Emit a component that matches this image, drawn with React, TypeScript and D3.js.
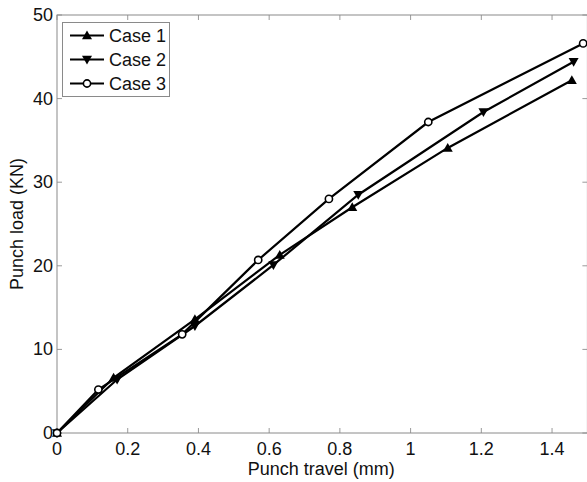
import React from "react";
import * as d3 from "d3";

const case1X = [0, 0.16, 0.39, 0.63, 0.835, 1.105, 1.456];
const case1Y = [0, 6.6, 13.6, 21.3, 27.0, 34.1, 42.2];
const case2X = [0, 0.17, 0.39, 0.612, 0.852, 1.206, 1.461];
const case2Y = [0, 6.4, 12.8, 20.1, 28.5, 38.4, 44.4];
const case3X = [0, 0.117, 0.354, 0.569, 0.769, 1.05, 1.488];
const case3Y = [0, 5.2, 11.8, 20.7, 28.0, 37.2, 46.6];
const xTicks = [0, 0.2, 0.4, 0.6, 0.8, 1, 1.2, 1.4];
const yTicks = [0, 10, 20, 30, 40, 50];
const seriesNames = ["Case 1", "Case 2", "Case 3"];
const markerKinds = ["up", "down", "circle"];

const W = 587, H = 482;
const left = 57, right = 587.4, top = 15, bottom = 433;
const FONT = "'Liberation Sans', Arial, sans-serif";

function Marker({ kind, x, y }: { kind: string; x: number; y: number }) {
  if (kind === "circle") return <circle cx={x} cy={y} r={3.6} fill="white" stroke="black" strokeWidth={1.6} />;
  const s = 5;
  if (kind === "up")
    return <path d={`M${x},${y - s} L${x + s},${y + s * 0.75} L${x - s},${y + s * 0.75} Z`} fill="black" />;
  return <path d={`M${x},${y + s} L${x + s},${y - s * 0.75} L${x - s},${y - s * 0.75} Z`} fill="black" />;
}

export default function App() {
  const x = d3.scaleLinear().domain([0, 1.5]).range([left, right]);
  const y = d3.scaleLinear().domain([0, 50]).range([bottom, top]);
  const series = [
    { xs: case1X, ys: case1Y },
    { xs: case2X, ys: case2Y },
    { xs: case3X, ys: case3Y },
  ];
  const line = d3.line<[number, number]>().x((d) => x(d[0])).y((d) => y(d[1]));
  const axisCol = "#8a8a8a";
  const tickCol = "#9a9a9a";
  const legX = 62.5, legY = 22.5, legW = 107, legH = 74;

  return (
    <svg width={W} height={H} style={{ position: "absolute", left: 0, top: 0, background: "white" }}>
      <rect x={0} y={0} width={W} height={H} fill="white" />
      {/* ticks */}
      {xTicks.map((t) => (
        <g key={"xt" + t}>
          <line x1={x(t)} x2={x(t)} y1={bottom} y2={bottom - 5} stroke={tickCol} />
          <line x1={x(t)} x2={x(t)} y1={top} y2={top + 5} stroke={tickCol} />
          <text x={x(t)} y={455} textAnchor="middle" fontFamily={FONT} fontSize={18} fill="#111">
            {String(t)}
          </text>
        </g>
      ))}
      {yTicks.map((t) => (
        <g key={"yt" + t}>
          <line x1={left} x2={left + 5} y1={y(t)} y2={y(t)} stroke={tickCol} />
          <line x1={right} x2={right - 5} y1={y(t)} y2={y(t)} stroke={tickCol} />
          <text x={53} y={y(t) + 6} textAnchor="end" fontFamily={FONT} fontSize={18} fill="#111">
            {String(t)}
          </text>
        </g>
      ))}
      <rect x={left} y={top} width={right - left} height={bottom - top} fill="none" stroke={axisCol} strokeWidth={1} />
      <text x={(left + right) / 2 - 1} y={475} textAnchor="middle" fontFamily={FONT} fontSize={18} fill="#111">
        Punch travel (mm)
      </text>
      <text
        transform={`translate(23,${(top + bottom) / 2}) rotate(-90)`}
        textAnchor="middle"
        fontFamily={FONT}
        fontSize={18}
        fill="#111"
      >
        Punch load (KN)
      </text>
      {/* series */}
      {series.map((s, i) => {
        const pts = s.xs.map((v, j) => [v, s.ys[j]] as [number, number]);
        return (
          <g key={"s" + i}>
            <path d={line(pts) || ""} fill="none" stroke="black" strokeWidth={2.2} />
            {pts.map((p, j) => (
              <Marker key={j} kind={markerKinds[i]} x={x(p[0])} y={y(p[1])} />
            ))}
          </g>
        );
      })}
      {/* legend */}
      <rect x={legX} y={legY} width={legW} height={legH} fill="white" stroke={axisCol} strokeWidth={1} />
      {seriesNames.map((n, i) => {
        const ly = 35.5 + i * 24;
        return (
          <g key={"l" + i}>
            <line x1={70} x2={104} y1={ly} y2={ly} stroke="black" strokeWidth={2.2} />
            <Marker kind={markerKinds[i]} x={87} y={ly} />
            <text x={109} y={ly + 6.5} fontFamily={FONT} fontSize={18} fill="#111">
              {n}
            </text>
          </g>
        );
      })}
    </svg>
  );
}
